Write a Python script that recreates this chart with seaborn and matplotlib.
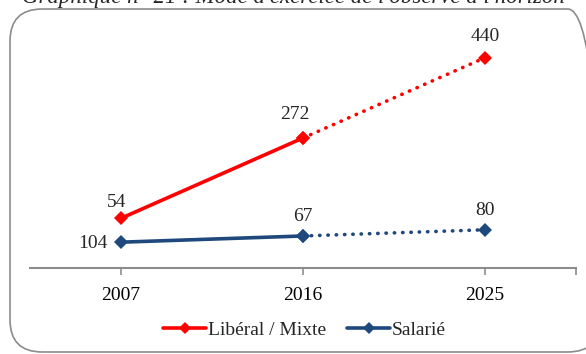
import matplotlib
matplotlib.use("Agg")
import matplotlib.pyplot as plt
import seaborn as sns
import pandas as pd
from matplotlib.lines import Line2D
from matplotlib.patches import FancyBboxPatch

years = ["2007", "2016", "2025"]
liberal = [104, 272, 440]
salarie = [54, 67, 80]
series_names = ["Libéral / Mixte", "Salarié"]
colors = {"Libéral / Mixte": "#FF0000", "Salarié": "#1F497D"}
title = "Graphique n° 21 : Mode d'exercice de l'observé à l'horizon"

# long table: observed segment (2007-2016) and projected segment (2016-2025)
rows = []
for name, vals in zip(series_names, [liberal, salarie]):
    for i in (0, 1):
        rows.append({"x": i, "value": vals[i], "serie": name, "phase": "observé"})
    for i in (1, 2):
        rows.append({"x": i, "value": vals[i], "serie": name, "phase": "projeté"})
df = pd.DataFrame(rows)

sns.set_theme(style="white")
plt.rcParams["font.family"] = ["Liberation Serif", "DejaVu Serif"]

W, H = 586, 354
fig = plt.figure(figsize=(W / 100, H / 100), dpi=100)
ax = fig.add_axes([30 / W, 1 - 268 / H, (576 - 30) / W, (268 - 29) / H])

sns.lineplot(data=df, x="x", y="value", hue="serie", style="phase",
             palette=colors, dashes={"observé": "", "projeté": (0.1, 2.2)},
             markers={"observé": "D", "projeté": "D"}, markersize=7,
             markeredgewidth=0, linewidth=2.6, dash_capstyle="round",
             legend=False, ax=ax, sort=False, estimator=None, units=None)

ax.set_xlim(-0.5, 2.5)
ax.set_ylim(0, 500)
ax.set_xticks(range(len(years)))
ax.set_xticklabels(years, fontsize=14)
ax.set_xticks([2.5], minor=True)
ax.set_yticks([])
ax.set_xlabel("")
ax.set_ylabel("")
for side in ("left", "right", "top"):
    ax.spines[side].set_visible(False)
ax.spines["bottom"].set_color("#8C8C8C")
ax.spines["bottom"].set_linewidth(1.5)
ax.tick_params(axis="x", which="both", direction="out", length=5, width=1.2,
               color="#8C8C8C", bottom=True, pad=9, labelcolor="black")
ax.patch.set_alpha(0)

fs = 14
# value labels
ax.annotate(str(liberal[1]), (1, liberal[1]), xytext=(-6, 11), textcoords="offset points",
            ha="center", va="bottom", fontsize=fs)
ax.annotate(str(liberal[2]), (2, liberal[2]), xytext=(0, 9), textcoords="offset points",
            ha="center", va="bottom", fontsize=fs)
ax.annotate(str(liberal[0]), (0, salarie[0]), xytext=(-10, -1), textcoords="offset points",
            ha="right", va="center", fontsize=fs)
ax.annotate(str(salarie[0]), (0, liberal[0]), xytext=(-3, 5), textcoords="offset points",
            ha="center", va="bottom", fontsize=fs)
ax.annotate(str(salarie[1]), (1, salarie[1]), xytext=(0, 8), textcoords="offset points",
            ha="center", va="bottom", fontsize=fs)
ax.annotate(str(salarie[2]), (2, salarie[2]), xytext=(0, 8), textcoords="offset points",
            ha="center", va="bottom", fontsize=fs)

handles = [Line2D([0], [0], color=colors[n], lw=2.6, marker="D", markersize=6,
                  markeredgewidth=0) for n in series_names]
fig.legend(handles, series_names, loc="center", bbox_to_anchor=(0.52, 1 - 330 / H),
           ncol=2, frameon=False, fontsize=14, handlelength=2.2,
           handletextpad=0.1, columnspacing=1.1)

box = FancyBboxPatch((10 / W, 1 - 352 / H), (600 - 10) / W, (352 - 9) / H,
                     boxstyle="round,pad=0,rounding_size=0.055",
                     transform=fig.transFigure, fill=False,
                     edgecolor="#8C8C8C", linewidth=1.2, mutation_aspect=W / H)
fig.patches.append(box)

fig.text(0.5, 1 - 3 / H, title, ha="center", va="baseline", fontsize=16.5,
         style="italic")

fig.savefig("out.png", dpi=100)
